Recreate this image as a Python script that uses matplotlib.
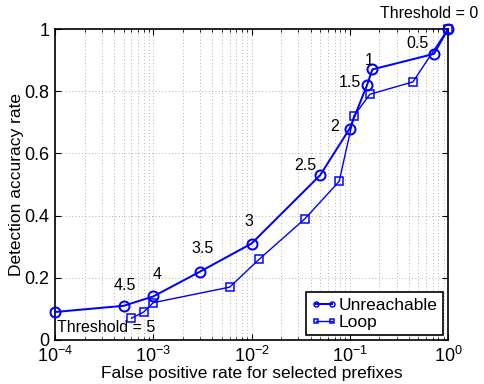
import matplotlib
matplotlib.use("Agg")
import matplotlib.pyplot as plt
from matplotlib.lines import Line2D
from matplotlib.ticker import LogLocator, NullFormatter

plt.rcParams['font.family'] = ['Liberation Sans', 'DejaVu Sans']
plt.rcParams['mathtext.fontset'] = 'custom'
plt.rcParams['mathtext.rm'] = 'Liberation Sans'
plt.rcParams['mathtext.it'] = 'Liberation Sans'
plt.rcParams['mathtext.default'] = 'regular'

# Data
unreach_fpr = [1.0, 0.72, 0.17, 0.15, 0.10, 0.05, 0.01, 0.003, 0.001, 0.0005, 0.0001]
unreach_acc = [1.0, 0.92, 0.87, 0.82, 0.68, 0.53, 0.31, 0.22, 0.14, 0.11, 0.09]
unreach_labels = ["Threshold = 0", "0.5", "1", "1.5", "2", "2.5", "3", "3.5", "4", "4.5", "Threshold = 5"]
label_offsets_px = [(-19, 15), (-16, 10), (-3, 9), (-17, 2), (-15, 2), (-15, 10),
                    (-3, 22), (2, 23), (4, 22), (1, 20), (51, -15)]

loop_fpr = [1.0, 0.44, 0.16, 0.11, 0.078, 0.035, 0.012, 0.006, 0.001, 0.0008, 0.0006]
loop_acc = [1.0, 0.83, 0.79, 0.72, 0.51, 0.39, 0.26, 0.17, 0.12, 0.09, 0.07]

yticks = [0, 0.2, 0.4, 0.6, 0.8, 1.0]
ytick_labels = ["0", "0.2", "0.4", "0.6", "0.8", "1"]

dpi = 100
fig = plt.figure(figsize=(4.84, 3.84), dpi=dpi)
ax = fig.add_axes([55/484, 1-340/384, (448-55)/484, (340-29)/384])

px = 72.0 / dpi
blue = (0, 0, 1)
ax.plot(unreach_fpr, unreach_acc, '-o', color=blue, lw=2*px, ms=10*px,
        mfc='none', mec=blue, mew=2*px, zorder=3, clip_on=False)
ax.plot(loop_fpr, loop_acc, '-s', color=blue, lw=1.4*px, ms=8*px,
        mfc='none', mec=blue, mew=1.5*px, zorder=3, clip_on=False)

ax.set_xscale('log')
ax.set_xlim(1e-4, 1)
ax.set_ylim(0, 1)
ax.set_yticks(yticks)
ax.set_yticklabels(ytick_labels)
ax.xaxis.set_major_locator(LogLocator(base=10, numticks=10))
ax.xaxis.set_minor_locator(LogLocator(base=10, subs=range(2, 10), numticks=20))
ax.xaxis.set_minor_formatter(NullFormatter())

ax.grid(True, which='major', axis='both', linestyle=(0, (1, 3)), color='#999999', lw=0.6)
ax.grid(True, which='minor', axis='x', linestyle=(0, (1, 3)), color='#999999', lw=0.6)
ax.set_axisbelow(True)

ax.tick_params(which='both', direction='in', top=True, right=True, labelsize=13, pad=4)
ax.tick_params(which='major', length=4, width=0.8)
ax.tick_params(which='minor', length=2, width=0.6)
for s in ax.spines.values():
    s.set_linewidth(1.2)
    s.set_color('black')

ax.set_xlabel("False positive rate for selected prefixes", fontsize=12.5, labelpad=0)
ax.set_ylabel("Detection accuracy rate", fontsize=12.5, labelpad=0)

for xv, yv, lab, (dx, dy) in zip(unreach_fpr, unreach_acc, unreach_labels, label_offsets_px):
    ax.annotate(lab, (xv, yv), xytext=(dx*px, dy*px), textcoords='offset points',
                ha='center', va='center', fontsize=11.5, annotation_clip=False, zorder=4)

h1 = Line2D([0], [0], color=blue, lw=2*px, marker='o', ms=5*px, mfc='none', mew=1.5*px)
h2 = Line2D([0], [0], color=blue, lw=1.4*px, marker='s', ms=5*px, mfc='none', mew=1.5*px)
leg = ax.legend([h1, h2], ["Unreachable", "Loop"], loc='lower right', fontsize=12.5,
                numpoints=2, handlelength=1.5, handletextpad=0.1, labelspacing=0.1,
                borderpad=0.3, borderaxespad=0.3, fancybox=False, framealpha=1,
                edgecolor='black')
leg.get_frame().set_linewidth(1.2)
leg.set_zorder(5)

fig.savefig("out.png", dpi=dpi)
